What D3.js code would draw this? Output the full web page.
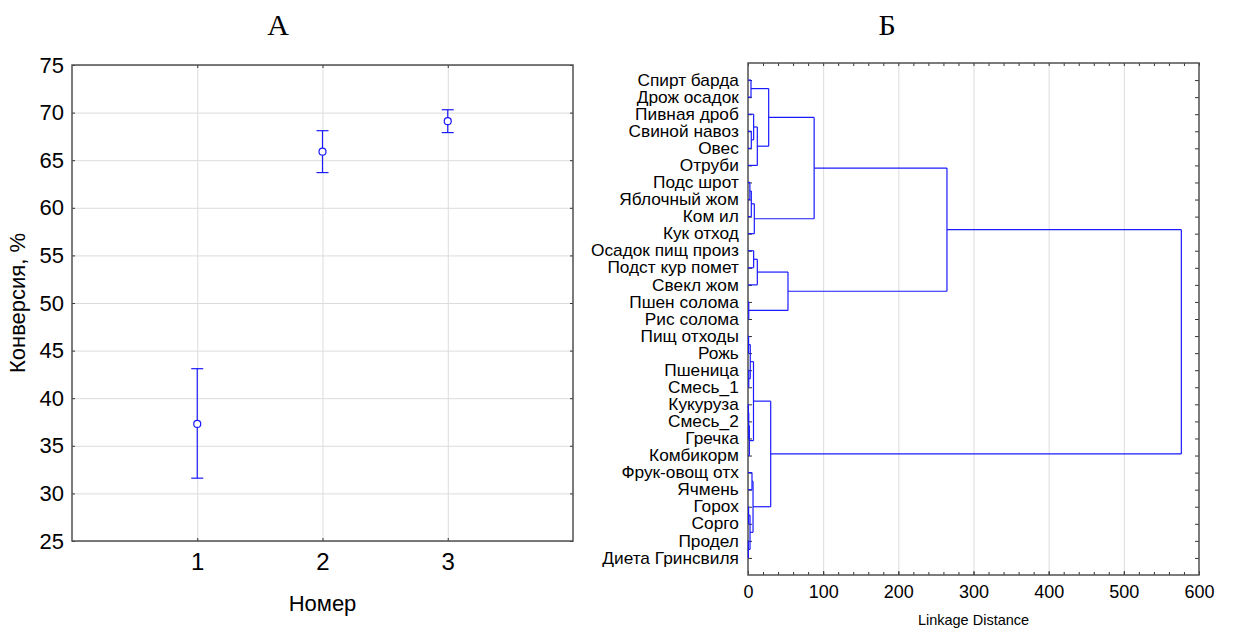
<!DOCTYPE html>
<html lang="ru">
<head>
<meta charset="UTF-8">
<title>Конверсия и кластеры</title>
<script src="https://d3js.org/d3.v7.min.js"></script>
<style>
    body { margin: 0; background: #fff; }
    svg text { font-family: "Liberation Sans", Arial, sans-serif; fill: #000; }
    .grid line { stroke: #dcdcdc; stroke-width: 1; }
    .grid path { display: none; }
    .frame { fill: none; stroke: #505050; stroke-width: 1.5; }
    .ax path { display: none; }
    .ax line { stroke: #333; }
    .title { font-family: "Liberation Serif", "Times New Roman", serif !important; font-size: 30px; }
</style>
</head>
<body>
<script>
// ---- panel A: mean conversion with error bars
const groups = [1, 2, 3];
const means  = [37.3, 65.9, 69.1];
const lows   = [31.6, 63.7, 67.9];
const highs  = [43.1, 68.1, 70.3];
const yTicksA = [25, 30, 35, 40, 45, 50, 55, 60, 65, 70, 75];

// ---- panel B: tree diagram (leaf order top -> bottom)
const leafNames = [
    "Спирт барда", "Дрож осадок", "Пивная дроб", "Свиной навоз", "Овес",
    "Отруби", "Подс шрот", "Яблочный жом", "Ком ил", "Кук отход",
    "Осадок пищ произ", "Подст кур помет", "Свекл жом", "Пшен солома", "Рис солома",
    "Пищ отходы", "Рожь", "Пшеница", "Смесь_1", "Кукуруза",
    "Смесь_2", "Гречка", "Комбикорм", "Фрук-овощ отх", "Ячмень",
    "Горох", "Сорго", "Продел", "Диета Гринсвиля"
];
// merges: [child a, child b, linkage distance]; new cluster id = 29 + row index
const merges = [
    [0, 1, 4], [3, 4, 4.4], [2, 30, 7.5], [31, 5, 12.4], [29, 32, 27.5],
    [6, 7, 2.5], [34, 8, 4.4], [35, 9, 8.4], [33, 36, 88],
    [10, 11, 7.5], [38, 12, 12.4], [13, 14, 1], [39, 40, 53.2], [37, 41, 264.7],
    [15, 16, 0.8], [17, 18, 1], [43, 44, 3], [19, 20, 0.5], [46, 21, 1],
    [47, 22, 1.8], [45, 48, 7.3], [23, 24, 5.3], [25, 26, 0.8], [27, 28, 0.5],
    [51, 52, 2.7], [50, 53, 6.7], [49, 54, 30.2], [42, 55, 576.5]
];
const distTicks = [0, 100, 200, 300, 400, 500, 600];

const W = 1233, H = 630;
const svg = d3.select("body").append("svg").attr("width", W).attr("height", H);

// ================= panel A
const A = { left: 72, right: 573, top: 65, bottom: 541 };
const xA = d3.scaleLinear().domain([0, 4]).range([A.left, A.right]);
const yA = d3.scaleLinear().domain([25, 75]).range([A.bottom, A.top]);

svg.append("text").attr("class", "title").attr("x", 278).attr("y", 35)
    .attr("text-anchor", "middle").text("А");

svg.append("g").attr("class", "grid")
    .attr("transform", `translate(${A.left},0)`)
    .call(d3.axisLeft(yA).tickValues(yTicksA).tickSize(-(A.right - A.left)).tickFormat(""));
svg.append("g").attr("class", "grid")
    .attr("transform", `translate(0,${A.bottom})`)
    .call(d3.axisBottom(xA).tickValues(groups).tickSize(-(A.bottom - A.top)).tickFormat(""));

// tick labels + inward ticks
const yAxA = svg.append("g").attr("class", "ax")
    .attr("transform", `translate(${A.left},0)`)
    .call(d3.axisLeft(yA).tickValues(yTicksA).tickSizeInner(-3).tickSizeOuter(0).tickPadding(8));
yAxA.selectAll("text").style("font-size", "22px");
svg.append("g").attr("class", "ax").attr("transform", `translate(${A.right},0)`)
    .call(d3.axisRight(yA).tickValues(yTicksA).tickSizeInner(-3).tickSizeOuter(0).tickFormat(""));
const xAxA = svg.append("g").attr("class", "ax")
    .attr("transform", `translate(0,${A.bottom})`)
    .call(d3.axisBottom(xA).tickValues(groups).tickFormat(d3.format("d"))
        .tickSizeInner(-3).tickSizeOuter(0).tickPadding(12));
xAxA.selectAll("text").style("font-size", "24px");
svg.append("g").attr("class", "ax").attr("transform", `translate(0,${A.top})`)
    .call(d3.axisTop(xA).tickValues(groups).tickSizeInner(-3).tickSizeOuter(0).tickFormat(""));

svg.append("rect").attr("class", "frame")
    .attr("x", A.left).attr("y", A.top)
    .attr("width", A.right - A.left).attr("height", A.bottom - A.top);

svg.append("text").attr("x", xA(2)).attr("y", 611).attr("text-anchor", "middle")
    .style("font-size", "22px").text("Номер");
svg.append("text").attr("transform", `translate(25,${(A.top + A.bottom) / 2}) rotate(-90)`)
    .attr("text-anchor", "middle").style("font-size", "22px").text("Конверсия, %");

const pts = groups.map((g, i) => ({ g, m: means[i], lo: lows[i], hi: highs[i] }));
const eb = svg.append("g").attr("stroke", "#1a1aff").attr("fill", "none").attr("stroke-width", 1.2);
eb.selectAll("line.v").data(pts).join("line").attr("class", "v")
    .attr("x1", d => xA(d.g)).attr("x2", d => xA(d.g))
    .attr("y1", d => yA(d.lo)).attr("y2", d => yA(d.hi));
eb.selectAll("line.lo").data(pts).join("line").attr("class", "lo")
    .attr("x1", d => xA(d.g) - 6).attr("x2", d => xA(d.g) + 6)
    .attr("y1", d => yA(d.lo)).attr("y2", d => yA(d.lo));
eb.selectAll("line.hi").data(pts).join("line").attr("class", "hi")
    .attr("x1", d => xA(d.g) - 6).attr("x2", d => xA(d.g) + 6)
    .attr("y1", d => yA(d.hi)).attr("y2", d => yA(d.hi));
eb.selectAll("circle").data(pts).join("circle")
    .attr("cx", d => xA(d.g)).attr("cy", d => yA(d.m)).attr("r", 3.5).attr("fill", "#fff");

// ================= panel B
const B = { left: 748, right: 1199, top: 63, bottom: 575 };
const xB = d3.scaleLinear().domain([0, 600]).range([B.left, B.right]);
const yB = d3.scaleLinear().domain([-1, leafNames.length]).range([B.top, B.bottom]);

svg.append("text").attr("class", "title").attr("x", 887).attr("y", 35)
    .attr("text-anchor", "middle").text("Б");

svg.append("g").attr("class", "grid")
    .attr("transform", `translate(0,${B.bottom})`)
    .call(d3.axisBottom(xB).tickValues(distTicks.slice(1, -1)).tickSize(-(B.bottom - B.top)).tickFormat(""));

const leafIdx = d3.range(leafNames.length);
const yAxB = svg.append("g").attr("class", "ax")
    .attr("transform", `translate(${B.left},0)`)
    .call(d3.axisLeft(yB).tickValues(leafIdx).tickFormat(i => leafNames[i])
        .tickSizeInner(-4).tickSizeOuter(0).tickPadding(8.5));
// labels are a bit wide in the original: slightly stretched text
yAxB.selectAll("text").style("font-size", "16px").attr("transform", "scale(1.08,1)");
svg.append("g").attr("class", "ax").attr("transform", `translate(${B.right},0)`)
    .call(d3.axisRight(yB).tickValues(leafIdx).tickSizeInner(-4).tickSizeOuter(0).tickFormat(""));

const minor = d3.range(0, 601, 20);
svg.append("g").attr("class", "ax").attr("transform", `translate(0,${B.bottom})`)
    .call(d3.axisBottom(xB).tickValues(minor).tickSizeInner(-3).tickSizeOuter(0).tickFormat(""));
svg.append("g").attr("class", "ax").attr("transform", `translate(0,${B.top})`)
    .call(d3.axisTop(xB).tickValues(minor).tickSizeInner(-3).tickSizeOuter(0).tickFormat(""));
const xAxB = svg.append("g").attr("class", "ax")
    .attr("transform", `translate(0,${B.bottom})`)
    .call(d3.axisBottom(xB).tickValues(distTicks).tickSizeInner(-4).tickSizeOuter(0).tickPadding(10));
xAxB.selectAll("text").style("font-size", "18px");

svg.append("rect").attr("class", "frame")
    .attr("x", B.left).attr("y", B.top)
    .attr("width", B.right - B.left).attr("height", B.bottom - B.top);

svg.append("text").attr("x", (B.left + B.right) / 2).attr("y", 625).attr("text-anchor", "middle")
    .style("font-size", "14.5px").text("Linkage Distance");

// cluster positions
const nodeY = leafIdx.map(i => yB(i));
const nodeH = leafIdx.map(() => 0);
const segs = [];
merges.forEach(([a, b, h]) => {
    segs.push([xB(h), nodeY[a], xB(h), nodeY[b]]);
    segs.push([xB(nodeH[a]), nodeY[a], xB(h), nodeY[a]]);
    segs.push([xB(nodeH[b]), nodeY[b], xB(h), nodeY[b]]);
    nodeY.push((nodeY[a] + nodeY[b]) / 2);
    nodeH.push(h);
});
svg.append("g").attr("stroke", "#1a1aff").attr("stroke-width", 1.2)
    .selectAll("line").data(segs).join("line")
    .attr("x1", d => d[0]).attr("y1", d => d[1])
    .attr("x2", d => d[2]).attr("y2", d => d[3]);
</script>
</body>
</html>
